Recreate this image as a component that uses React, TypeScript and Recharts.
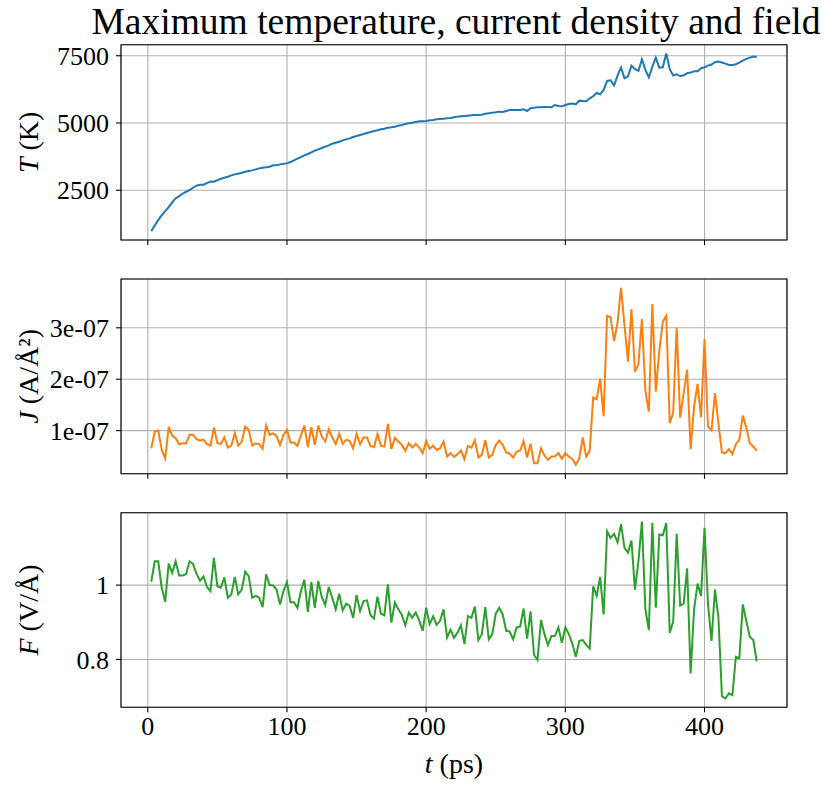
import React from 'react';
import { LineChart, Line, XAxis, YAxis, CartesianGrid, ReferenceArea } from 'recharts';

const TIME_PS = [
  2.5, 5, 7.5, 10, 12.5, 15, 17.5, 20, 22.5, 25,
  27.5, 30, 32.5, 35, 37.5, 40, 42.5, 45, 47.5, 50,
  52.5, 55, 57.5, 60, 62.5, 65, 67.5, 70, 72.5, 75,
  77.5, 80, 82.5, 85, 87.5, 90, 92.5, 95, 97.5, 100,
  102.5, 105, 107.5, 110, 112.5, 115, 117.5, 120, 122.5, 125,
  127.5, 130, 132.5, 135, 137.5, 140, 142.5, 145, 147.5, 150,
  152.5, 155, 157.5, 160, 162.5, 165, 167.5, 170, 172.5, 175,
  177.5, 180, 182.5, 185, 187.5, 190, 192.5, 195, 197.5, 200,
  202.5, 205, 207.5, 210, 212.5, 215, 217.5, 220, 222.5, 225,
  227.5, 230, 232.5, 235, 237.5, 240, 242.5, 245, 247.5, 250,
  252.5, 255, 257.5, 260, 262.5, 265, 267.5, 270, 272.5, 275,
  277.5, 280, 282.5, 285, 287.5, 290, 292.5, 295, 297.5, 300,
  302.5, 305, 307.5, 310, 312.5, 315, 317.5, 320, 322.5, 325,
  327.5, 330, 332.5, 335, 337.5, 340, 342.5, 345, 347.5, 350,
  352.5, 355, 357.5, 360, 362.5, 365, 367.5, 370, 372.5, 375,
  377.5, 380, 382.5, 385, 387.5, 390, 392.5, 395, 397.5, 400,
  402.5, 405, 407.5, 410, 412.5, 415, 417.5, 420, 422.5, 425,
  427.5, 430, 432.5, 435, 437.5,
];

// Maximum temperature (K)
const TEMP_K = [
  979, 1190, 1389, 1575, 1724, 1873, 2046, 2195, 2282, 2369,
  2444, 2506, 2592, 2667, 2704, 2704, 2766, 2828, 2816, 2878,
  2928, 2965, 3002, 3052, 3089, 3114, 3151, 3188, 3213, 3238,
  3275, 3312, 3337, 3350, 3374, 3424, 3424, 3461, 3486, 3498,
  3548, 3610, 3672, 3734, 3796, 3846, 3908, 3970, 4020, 4069,
  4119, 4169, 4231, 4268, 4305, 4355,
  4392, 4429, 4479, 4516, 4553, 4590, 4628, 4665, 4702, 4727,
  4764, 4789, 4826, 4839, 4863, 4901, 4926, 4963, 4988, 5012,
  5037, 5062, 5062, 5074, 5099, 5112, 5137, 5149, 5161, 5174,
  5186, 5211, 5236, 5248, 5261, 5273, 5285, 5298, 5298, 5310,
  5347, 5360, 5385, 5397, 5422, 5410, 5447, 5484, 5484, 5484,
  5484, 5509, 5447, 5546, 5571, 5583, 5583, 5596, 5596, 5583,
  5670, 5633, 5620, 5670,
  5707, 5720, 5695, 5831, 5819, 5807, 5918, 5993, 6117, 6067,
  6229, 6564, 6588, 6390, 6762, 7060, 6663, 6737, 7135, 6998,
  6936, 7370, 6973, 6700, 7097, 7432, 7060, 7072, 7581, 6998,
  6762, 6812, 6737, 6775, 6849, 6874, 6924, 6924, 7035, 7072,
  7135, 7172, 7259, 7283, 7246, 7209, 7159, 7159, 7184, 7246,
  7321, 7383, 7432, 7470, 7457,
];

// Maximum current density, in units of 1e-7 A/Å²
const CURRENT_E7 = [
  0.658, 0.981, 1.001, 0.625, 0.463, 1.072, 0.904, 0.852, 0.735, 0.755,
  0.755, 0.917, 0.917, 0.832, 0.806, 0.826, 0.735, 0.709, 1.059, 0.755,
  0.742, 0.871, 0.670, 0.709, 0.955, 0.709, 0.787, 1.078, 1.014, 0.709,
  0.748, 0.735, 0.645, 1.098, 0.917, 0.949, 0.891, 0.722, 0.917, 1.014,
  0.768, 0.768, 0.703, 0.904, 1.098, 0.677, 1.065, 0.722, 1.098, 0.884,
  0.787, 1.027, 0.871, 0.735, 0.942, 0.742,
  0.819, 0.800, 0.658, 0.936, 0.735, 0.865, 0.865, 0.703, 0.677, 0.936,
  0.703, 0.690, 1.130, 0.638, 0.858, 0.787, 0.722, 0.606, 0.755, 0.670,
  0.742, 0.670, 0.561, 0.800, 0.645, 0.709, 0.625, 0.658, 0.787, 0.496,
  0.561, 0.489, 0.541, 0.612, 0.444, 0.703, 0.670, 0.813, 0.476, 0.528,
  0.813, 0.476, 0.528, 0.722, 0.806, 0.722, 0.573, 0.554, 0.476, 0.593,
  0.612, 0.794, 0.476, 0.742, 0.366, 0.366, 0.658, 0.515, 0.431, 0.496,
  0.496, 0.561, 0.450, 0.561,
  0.496, 0.450, 0.334, 0.457, 0.865, 0.496, 0.606, 1.641, 1.609, 2.010,
  1.279, 3.234, 3.201, 2.742, 3.098, 3.777, 3.052, 2.340, 3.363, 2.146,
  2.289, 3.169, 1.777, 1.370, 3.460, 1.758, 2.548, 3.117, 3.234, 1.143,
  1.357, 3.007, 1.253, 1.726, 2.185, 0.638, 1.467, 1.907, 1.260, 2.781,
  1.078, 1.007, 1.732, 1.143, 0.573, 0.561, 0.638, 0.541, 0.735, 0.819,
  1.292, 1.059, 0.755, 0.690, 0.612,
];

// Maximum field (V/Å)
const FIELD_V = [
  1.009, 1.064, 1.064, 0.993, 0.955, 1.058, 1.033, 1.064, 1.026, 1.026,
  1.029, 1.064, 1.057, 1.030, 1.012, 1.023, 0.995, 0.984, 1.073, 0.997,
  0.993, 1.021, 0.966, 0.975, 1.022, 0.975, 0.988, 1.036, 1.024, 0.966,
  0.971, 0.966, 0.941, 1.029, 1.000, 0.999, 0.988, 0.948, 0.984, 1.008,
  0.954, 0.954, 0.939, 0.984, 1.014, 0.928, 1.008, 0.939, 1.011, 0.968,
  0.946, 0.995, 0.966, 0.935, 0.977, 0.932,
  0.950, 0.944, 0.912, 0.973, 0.930, 0.957, 0.959, 0.919, 0.910, 0.969,
  0.923, 0.919, 1.002, 0.899, 0.953, 0.935, 0.920, 0.892, 0.926, 0.912,
  0.926, 0.905, 0.877, 0.939, 0.895, 0.916, 0.893, 0.904, 0.935, 0.859,
  0.880, 0.858, 0.872, 0.892, 0.841, 0.917, 0.912, 0.942, 0.852, 0.868,
  0.941, 0.854, 0.868, 0.923, 0.939, 0.921, 0.877, 0.875, 0.854, 0.886,
  0.888, 0.937, 0.856, 0.929, 0.812, 0.799, 0.906, 0.868, 0.839, 0.863,
  0.863, 0.886, 0.845, 0.886,
  0.868, 0.843, 0.807, 0.850, 0.852, 0.839, 0.829, 0.997, 0.971, 1.022,
  0.921, 1.145, 1.127, 1.138, 1.115, 1.164, 1.100, 1.087, 1.120, 0.988,
  1.064, 1.171, 0.935, 0.879, 1.167, 0.939, 1.136, 1.134, 1.167, 0.872,
  0.902, 1.138, 0.945, 0.950, 1.045, 0.762, 0.935, 1.004, 0.971, 1.154,
  0.948, 0.850, 0.988, 0.912, 0.701, 0.695, 0.709, 0.704, 0.807, 0.804,
  0.948, 0.904, 0.861, 0.852, 0.795,
];

const X_TICKS = [0, 100, 200, 300, 400];
const T_TICKS = [2500, 5000, 7500];
const J_TICKS = [1e-7, 2e-7, 3e-7];
const F_TICKS = [0.8, 1];

const TITLE = 'Maximum temperature, current density and field';

const rows = TIME_PS.map((t, i) => ({
  t,
  T: TEMP_K[i],
  J: CURRENT_E7[i] * 1e-7,
  F: FIELD_V[i],
}));

function padded(vals: number[]): [number, number] {
  const mn = Math.min(...vals);
  const mx = Math.max(...vals);
  const r = mx - mn;
  return [mn - 0.05 * r, mx + 0.05 * r];
}

const X_DOMAIN = padded(TIME_PS);
const T_DOMAIN = padded(rows.map((r) => r.T));
const J_DOMAIN = padded(rows.map((r) => r.J));
const F_DOMAIN = padded(rows.map((r) => r.F));

const FONT = '"Liberation Serif", "Times New Roman", serif';
const TICK_STYLE = { fill: '#000', fontSize: 26, fontFamily: FONT };
const TICK_LINE = { stroke: '#000', strokeWidth: 1.1 };

const EmptyTick = () => <g />;

type PanelProps = {
  top: number;
  height: number;
  marginTop: number;
  dataKey: string;
  color: string;
  yDomain: [number, number];
  yTicks: number[];
  yFmt: (v: number) => string;
  showX: boolean;
};

function Panel({ top, height, marginTop, dataKey, color, yDomain, yTicks, yFmt, showX }: PanelProps) {
  return (
    <div style={{ position: 'absolute', left: 0, top }}>
      <LineChart
        width={827}
        height={height}
        data={rows}
        margin={{ top: marginTop, right: 40, bottom: 0, left: 0 }}
      >
        <CartesianGrid stroke="#b0b0b0" strokeWidth={1.1} />
        <XAxis
          dataKey="t"
          type="number"
          domain={X_DOMAIN}
          ticks={X_TICKS}
          allowDataOverflow
          height={showX ? 80.7 : 10}
          axisLine={false}
          tickLine={TICK_LINE}
          tickSize={5}
          tickMargin={4}
          tick={showX ? TICK_STYLE : EmptyTick}
        />
        <YAxis
          type="number"
          domain={yDomain}
          ticks={yTicks}
          allowDataOverflow
          width={121}
          axisLine={false}
          tickLine={TICK_LINE}
          tickSize={5}
          tickMargin={7}
          tick={TICK_STYLE}
          tickFormatter={yFmt}
        />
        <ReferenceArea
          x1={X_DOMAIN[0]}
          x2={X_DOMAIN[1]}
          y1={yDomain[0]}
          y2={yDomain[1]}
          fill="none"
          fillOpacity={0}
          stroke="#000"
          strokeWidth={1.1}
        />
        <Line
          type="linear"
          dataKey={dataKey}
          stroke={color}
          strokeWidth={2}
          dot={false}
          isAnimationActive={false}
        />
      </LineChart>
    </div>
  );
}

const fmtT = (v: number) => String(v);
const fmtJ = (v: number) => `${Math.round(v * 1e7)}e-07`;
const fmtF = (v: number) => (Math.abs(v - 1) < 1e-9 ? '1' : v.toFixed(1));

export default function App() {
  const labelStyle = { fontFamily: FONT, fontSize: 28, fill: '#000' } as const;
  return (
    <div style={{ position: 'absolute', left: 0, top: 0, width: 827, height: 788, background: '#fff' }}>
      <Panel top={0} height={250} marginTop={44.7} dataKey="T" color="#1f77b4"
        yDomain={T_DOMAIN} yTicks={T_TICKS} yFmt={fmtT} showX={false} />
      <Panel top={270} height={213.7} marginTop={9} dataKey="J" color="#ff7f0e"
        yDomain={J_DOMAIN} yTicks={J_TICKS} yFmt={fmtJ} showX={false} />
      <Panel top={500} height={288} marginTop={12.7} dataKey="F" color="#2ca02c"
        yDomain={F_DOMAIN} yTicks={F_TICKS} yFmt={fmtF} showX={true} />
      <svg width={827} height={788} style={{ position: 'absolute', left: 0, top: 0, pointerEvents: 'none' }}>
        <text x={456} y={34} textAnchor="middle" style={{ fontFamily: FONT, fontSize: 37.5, fill: '#000' }}>
          {TITLE}
        </text>
        <text transform="translate(38,142.4) rotate(-90)" textAnchor="middle" style={labelStyle}>
          <tspan fontStyle="italic">T</tspan> (K)
        </text>
        <text transform="translate(38,376.4) rotate(-90)" textAnchor="middle" style={labelStyle}>
          <tspan fontStyle="italic">J</tspan> (A/Å²)
        </text>
        <text transform="translate(38,610) rotate(-90)" textAnchor="middle" style={labelStyle}>
          <tspan fontStyle="italic">F</tspan> (V/Å)
        </text>
        <text x={454} y={773} textAnchor="middle" style={labelStyle}>
          <tspan fontStyle="italic">t</tspan> (ps)
        </text>
      </svg>
    </div>
  );
}
